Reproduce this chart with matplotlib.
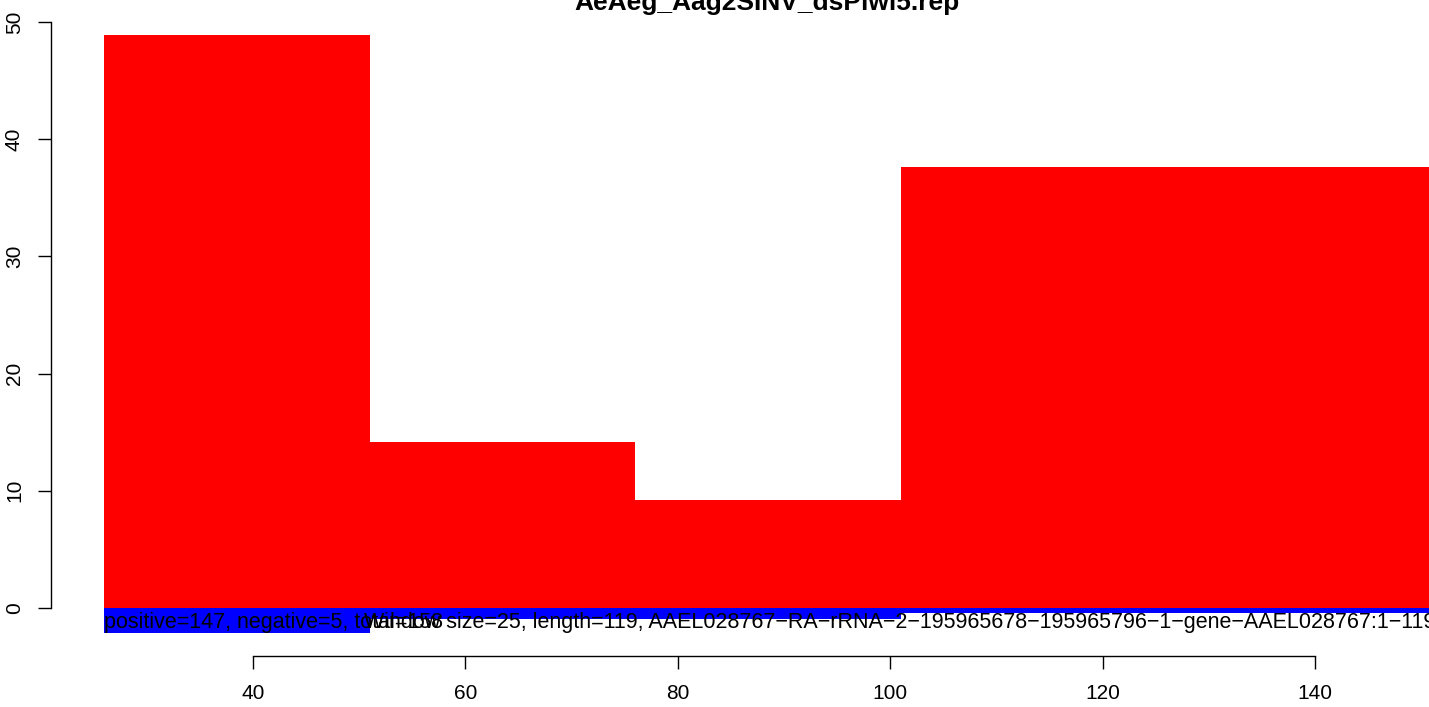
import matplotlib
matplotlib.use("Agg")
import matplotlib.pyplot as plt

# window starts, width and read counts per window
win_start = [26, 51, 76, 101, 126]
win_width = 25
positive = [48.9, 14.2, 9.2, 37.6, 37.6]
negative = [-2.15, -0.95, -0.95, -0.45, -0.45]

title = "AeAeg_Aag2SINV_dsPiwi5.rep"
info_left = "positive=147, negative=5, total=158"
info_right = ("Window size=25, length=119, "
              "AAEL028767\u2212RA\u2212rRNA\u22122\u2212195965678\u2212195965796"
              "\u22121\u2212gene\u2212AAEL028767:1\u2212119")
xticks = [40, 60, 80, 100, 120, 140]
yticks = [0, 10, 20, 30, 40, 50]

plt.rcParams['font.family'] = ['Liberation Sans', 'DejaVu Sans']

W, H = 1429, 707
fig = plt.figure(figsize=(W / 100, H / 100), dpi=100)

# plot region in pixels (R style, runs off the right and top edges)
left_px, right_px, bottom_px, top_px = 51, 1485, 656, -40
ax = fig.add_axes([left_px / W, 1 - bottom_px / H,
                   (right_px - left_px) / W, (bottom_px - top_px) / H])

ax.bar(win_start, positive, width=win_width, align='edge', color='#FF0000', linewidth=0)
ax.bar(win_start, negative, width=win_width, align='edge', color='#0000FF', linewidth=0)

ax.set_xlim(21, 156)
ax.set_ylim(-4.1, 55.3)

for s in ['top', 'right']:
    ax.spines[s].set_visible(False)
ax.spines['left'].set_bounds(0, 50)
ax.spines['bottom'].set_bounds(40, 140)
ax.spines['left'].set_linewidth(1.0)
ax.spines['bottom'].set_linewidth(1.0)

ax.set_xticks(xticks)
ax.set_yticks(yticks)
ax.tick_params(axis='both', direction='out', length=9.5, width=1.0, labelsize=15)
ax.tick_params(axis='x', pad=11)
ax.tick_params(axis='y', pad=10)
for lab in ax.get_yticklabels():
    lab.set_rotation(90)
    lab.set_va('center')

ax.text(26, -1.2, info_left, ha='left', va='center', fontsize=15.5, color='black')
ax.text(50.5, -1.2, info_right, ha='left', va='center', fontsize=15.5, color='black')

fig.text(767 / W, 1 - 10 / H, title, ha='center', va='baseline',
         fontsize=19, fontweight='bold')

fig.savefig("out.png", dpi=100)
